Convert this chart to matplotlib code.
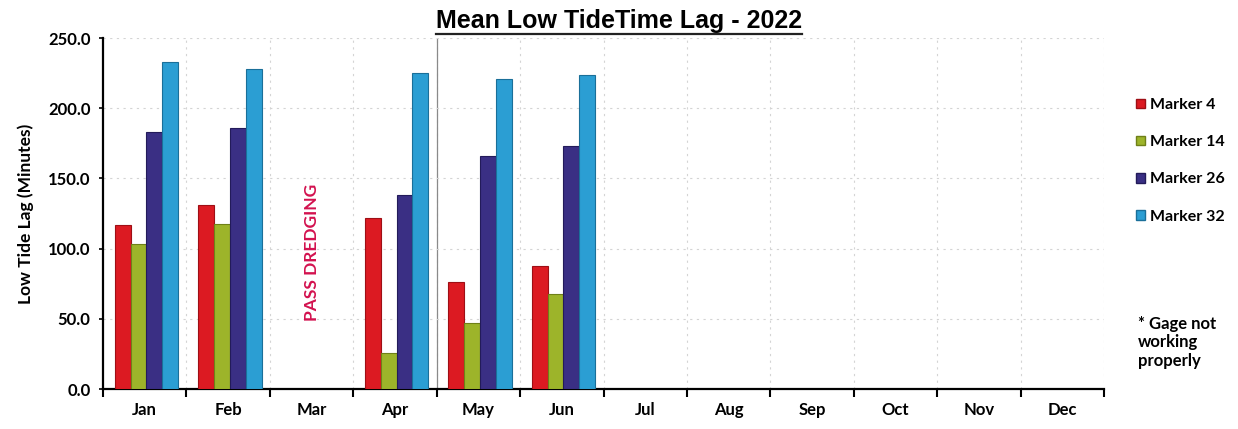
import numpy as np
import matplotlib
matplotlib.use("Agg")
import matplotlib.pyplot as plt
from matplotlib.lines import Line2D
from matplotlib.patches import Patch

# Данные: средний лаг отлива (минуты)
months = ["Jan", "Feb", "Mar", "Apr", "May", "Jun",
          "Jul", "Aug", "Sep", "Oct", "Nov", "Dec"]
marker4 = [117, 131, np.nan, 122, 76, 87.5]
marker14 = [103, 117.5, np.nan, 25.5, 47, 67.5]
marker26 = [183, 186, np.nan, 138, 166, 173]
marker32 = [233, 228, np.nan, 225, 220.5, 224]
series_names = ["Marker 4", "Marker 14", "Marker 26", "Marker 32"]
colors = ["#dc1a22", "#9db42a", "#3a2f84", "#2b9ed3"]
edges = ["#9e0f15", "#6f8018", "#231b5a", "#1a6f99"]

plt.rcParams["font.family"] = ["Lato", "DejaVu Sans"]

fig = plt.figure(figsize=(12.38, 4.29), dpi=100)
ax = fig.add_axes([0.0832, 0.0932, 0.8086, 0.8182])

x = np.arange(len(months))
w = 0.19
all_series = [marker4, marker14, marker26, marker32]
for i, vals in enumerate(all_series):
    xs = np.arange(len(vals)) + (i - 1.5) * w + 0.02
    ax.bar(xs, vals, width=w, color=colors[i], edgecolor=edges[i],
           linewidth=0.8, zorder=3)

ax.set_xlim(-0.5, 11.5)
ax.set_ylim(0, 250)
ax.set_yticks(np.arange(0, 251, 50))
ax.set_yticklabels([f"{v:.1f}" for v in np.arange(0, 251, 50)],
                   fontsize=12, fontweight="bold")
ax.set_xticks(x)
ax.set_xticklabels(months, fontsize=12, fontweight="bold")
ax.set_xticks(np.arange(-0.5, 12, 1), minor=True)
ax.tick_params(axis="x", which="major", length=0, pad=9)
ax.tick_params(axis="x", which="minor", length=6, width=1.5, direction="out")
ax.tick_params(axis="y", length=3, width=1.2, pad=6)

# сетка
ax.grid(axis="y", linestyle=(0, (2, 4)), color="#d4d4d4", linewidth=0.8, zorder=0)
for b in np.arange(0.5, 11.6, 1):
    ax.axvline(b, linestyle=(0, (2, 4)), color="#d4d4d4", linewidth=0.8, zorder=0)
ax.axvline(3.5, color="#8a8a8a", linewidth=0.9, zorder=1)

for s in ["top", "right"]:
    ax.spines[s].set_visible(False)
ax.spines["left"].set_linewidth(1.6)
ax.spines["bottom"].set_linewidth(1.6)

ax.set_ylabel("Low Tide Lag (Minutes)", fontsize=12.5, fontweight="bold", labelpad=10)

ax.text(2, 97, "PASS DREDGING", rotation=90, ha="center", va="center",
        color="#d3124f", fontsize=12.5, fontweight="bold")

# заголовок с подчёркиванием
title = fig.text(0.5, 0.952, "Mean Low TideTime Lag - 2022", ha="center", va="center",
                 fontsize=18, fontweight="bold", family=["Liberation Sans", "DejaVu Sans"])
fig.canvas.draw()
bb = title.get_window_extent(fig.canvas.get_renderer()).transformed(fig.transFigure.inverted())
fig.add_artist(Line2D([bb.x0, bb.x1], [bb.y0 - 0.004, bb.y0 - 0.004],
                      color="#222222", linewidth=1.6, transform=fig.transFigure))

handles = [Patch(facecolor=colors[i], edgecolor=edges[i]) for i in range(4)]
fig.legend(handles, series_names, loc="upper left", bbox_to_anchor=(0.906, 0.805),
           frameon=False, handlelength=0.55, handleheight=0.55,
           handletextpad=0.3, labelspacing=1.45, prop={"weight": "bold", "size": 11.5})

fig.text(0.919, 0.14, "* Gage not\nworking\nproperly", ha="left", va="bottom",
         fontsize=12, fontweight="bold", linespacing=1.2)

fig.savefig("out.png", dpi=100)
